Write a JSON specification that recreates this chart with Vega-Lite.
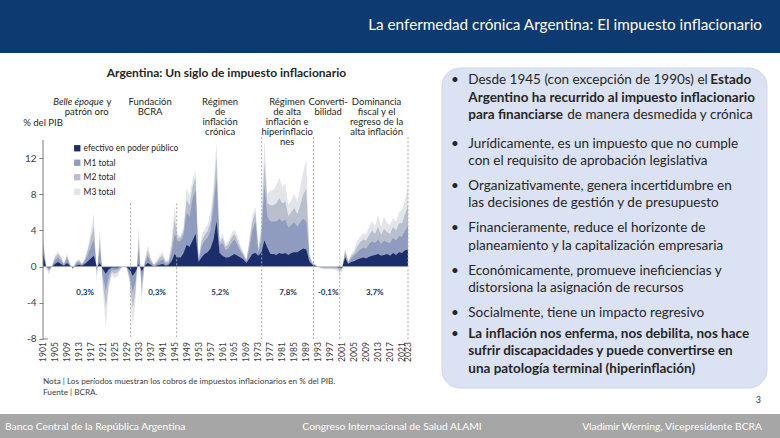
{
  "$schema": "https://vega.github.io/schema/vega-lite/v6.json",
  "width": 780,
  "height": 438,
  "padding": 0,
  "autosize": {"type": "none"},
  "background": "white",
  "config": {"view": {"stroke": null}, "font": "Lato"},
  "datasets": {
    "serie": [
      {"anio":1901,"e":1.4,"m1":2.4,"m2":3.0,"m3":3.6},
      {"anio":1902,"e":0.0,"m1":0.0,"m2":0.0,"m3":0.0},
      {"anio":1903,"e":-0.1,"m1":-0.3,"m2":-0.5,"m3":-0.9},
      {"anio":1904,"e":0.0,"m1":0.0,"m2":0.1,"m3":0.1},
      {"anio":1905,"e":0.3,"m1":0.7,"m2":1.0,"m3":1.2},
      {"anio":1906,"e":0.5,"m1":1.0,"m2":1.4,"m3":1.7},
      {"anio":1907,"e":0.3,"m1":0.7,"m2":1.0,"m3":1.2},
      {"anio":1908,"e":0.1,"m1":0.2,"m2":0.3,"m3":0.3},
      {"anio":1909,"e":0.4,"m1":0.9,"m2":1.2,"m3":1.5},
      {"anio":1910,"e":0.1,"m1":0.2,"m2":0.3,"m3":0.3},
      {"anio":1911,"e":-0.1,"m1":-0.2,"m2":-0.3,"m3":-0.3},
      {"anio":1912,"e":0.1,"m1":0.3,"m2":0.5,"m3":0.6},
      {"anio":1913,"e":0.2,"m1":0.5,"m2":0.7,"m3":0.9},
      {"anio":1914,"e":0.1,"m1":0.2,"m2":0.3,"m3":0.3},
      {"anio":1915,"e":0.3,"m1":0.6,"m2":0.8,"m3":1.0},
      {"anio":1916,"e":0.6,"m1":1.3,"m2":1.8,"m3":2.2},
      {"anio":1917,"e":0.9,"m1":2.2,"m2":3.2,"m3":4.0},
      {"anio":1918,"e":1.2,"m1":3.0,"m2":4.5,"m3":5.9},
      {"anio":1919,"e":-0.1,"m1":-0.5,"m2":-1.0,"m3":-2.0},
      {"anio":1920,"e":0.4,"m1":2.0,"m2":3.2,"m3":4.2},
      {"anio":1921,"e":-0.3,"m1":-1.0,"m2":-1.8,"m3":-2.6},
      {"anio":1922,"e":-0.8,"m1":-2.6,"m2":-4.5,"m3":-6.7},
      {"anio":1923,"e":-0.3,"m1":-1.0,"m2":-1.8,"m3":-2.5},
      {"anio":1924,"e":-0.1,"m1":-0.3,"m2":-0.6,"m3":-1.0},
      {"anio":1925,"e":-0.1,"m1":-0.4,"m2":-0.8,"m3":-1.3},
      {"anio":1926,"e":-0.1,"m1":-0.3,"m2":-0.6,"m3":-1.0},
      {"anio":1927,"e":0.0,"m1":-0.1,"m2":-0.2,"m3":-0.3},
      {"anio":1928,"e":0.0,"m1":0.0,"m2":0.1,"m3":0.1},
      {"anio":1929,"e":0.0,"m1":-0.1,"m2":-0.1,"m3":-0.2},
      {"anio":1930,"e":-0.4,"m1":-1.0,"m2":-1.5,"m3":-2.0},
      {"anio":1931,"e":-1.0,"m1":-2.8,"m2":-4.6,"m3":-6.6},
      {"anio":1932,"e":-0.5,"m1":-1.5,"m2":-2.5,"m3":-3.5},
      {"anio":1933,"e":0.3,"m1":2.0,"m2":3.3,"m3":4.5},
      {"anio":1934,"e":-0.5,"m1":-1.8,"m2":-3.0,"m3":-4.1},
      {"anio":1935,"e":0.1,"m1":0.3,"m2":0.5,"m3":0.7},
      {"anio":1936,"e":0.4,"m1":1.2,"m2":1.8,"m3":2.4},
      {"anio":1937,"e":0.2,"m1":0.5,"m2":0.8,"m3":1.0},
      {"anio":1938,"e":0.0,"m1":0.1,"m2":0.2,"m3":0.2},
      {"anio":1939,"e":0.1,"m1":0.3,"m2":0.5,"m3":0.7},
      {"anio":1940,"e":0.2,"m1":0.6,"m2":1.0,"m3":1.3},
      {"anio":1941,"e":0.3,"m1":0.8,"m2":1.2,"m3":1.6},
      {"anio":1942,"e":0.1,"m1":0.3,"m2":0.5,"m3":0.7},
      {"anio":1943,"e":0.2,"m1":0.4,"m2":0.6,"m3":0.8},
      {"anio":1944,"e":0.6,"m1":1.5,"m2":2.2,"m3":3.0},
      {"anio":1945,"e":1.4,"m1":3.6,"m2":5.2,"m3":6.8},
      {"anio":1946,"e":1.0,"m1":2.8,"m2":3.2,"m3":3.5},
      {"anio":1947,"e":1.0,"m1":2.8,"m2":3.2,"m3":3.4},
      {"anio":1948,"e":1.5,"m1":3.5,"m2":4.0,"m3":4.5},
      {"anio":1949,"e":2.4,"m1":6.0,"m2":7.4,"m3":8.7},
      {"anio":1950,"e":2.2,"m1":5.5,"m2":6.8,"m3":7.8},
      {"anio":1951,"e":2.9,"m1":7.5,"m2":8.8,"m3":9.7},
      {"anio":1952,"e":3.6,"m1":8.5,"m2":9.8,"m3":10.6},
      {"anio":1953,"e":0.5,"m1":0.6,"m2":0.7,"m3":0.8},
      {"anio":1954,"e":1.0,"m1":2.2,"m2":2.8,"m3":3.3},
      {"anio":1955,"e":1.4,"m1":2.9,"m2":3.5,"m3":4.2},
      {"anio":1956,"e":1.6,"m1":3.2,"m2":3.9,"m3":4.6},
      {"anio":1957,"e":2.0,"m1":4.0,"m2":5.0,"m3":6.0},
      {"anio":1958,"e":3.0,"m1":6.5,"m2":7.8,"m3":8.8},
      {"anio":1959,"e":5.0,"m1":9.8,"m2":12.2,"m3":13.9},
      {"anio":1960,"e":1.5,"m1":2.3,"m2":2.6,"m3":2.9},
      {"anio":1961,"e":1.2,"m1":2.6,"m2":3.2,"m3":3.7},
      {"anio":1962,"e":1.0,"m1":1.8,"m2":2.2,"m3":2.5},
      {"anio":1963,"e":1.0,"m1":2.0,"m2":2.5,"m3":2.9},
      {"anio":1964,"e":1.2,"m1":2.6,"m2":3.2,"m3":3.7},
      {"anio":1965,"e":1.4,"m1":3.0,"m2":3.6,"m3":4.1},
      {"anio":1966,"e":1.2,"m1":2.4,"m2":2.9,"m3":3.4},
      {"anio":1967,"e":1.0,"m1":1.7,"m2":2.0,"m3":2.3},
      {"anio":1968,"e":0.8,"m1":1.2,"m2":1.4,"m3":1.6},
      {"anio":1969,"e":0.4,"m1":0.6,"m2":0.7,"m3":0.8},
      {"anio":1970,"e":0.9,"m1":2.0,"m2":2.7,"m3":3.3},
      {"anio":1971,"e":1.4,"m1":4.0,"m2":5.0,"m3":5.8},
      {"anio":1972,"e":1.5,"m1":5.0,"m2":6.0,"m3":6.6},
      {"anio":1973,"e":1.2,"m1":1.6,"m2":1.8,"m3":2.0},
      {"anio":1974,"e":1.6,"m1":3.0,"m2":4.0,"m3":5.0},
      {"anio":1975,"e":2.9,"m1":9.0,"m2":11.5,"m3":14.1},
      {"anio":1976,"e":2.1,"m1":5.5,"m2":7.0,"m3":8.0},
      {"anio":1977,"e":1.4,"m1":5.0,"m2":6.8,"m3":8.4},
      {"anio":1978,"e":1.4,"m1":5.0,"m2":6.8,"m3":8.5},
      {"anio":1979,"e":1.3,"m1":5.0,"m2":7.0,"m3":9.0},
      {"anio":1980,"e":1.5,"m1":5.3,"m2":7.6,"m3":9.8},
      {"anio":1981,"e":1.4,"m1":5.0,"m2":7.0,"m3":8.8},
      {"anio":1982,"e":1.5,"m1":5.2,"m2":7.2,"m3":9.2},
      {"anio":1983,"e":1.3,"m1":4.3,"m2":5.6,"m3":6.8},
      {"anio":1984,"e":1.5,"m1":4.6,"m2":6.0,"m3":7.4},
      {"anio":1985,"e":1.6,"m1":4.9,"m2":6.5,"m3":8.0},
      {"anio":1986,"e":1.6,"m1":4.4,"m2":5.8,"m3":7.2},
      {"anio":1987,"e":1.8,"m1":4.9,"m2":6.8,"m3":8.8},
      {"anio":1988,"e":2.0,"m1":5.3,"m2":8.0,"m3":10.5},
      {"anio":1989,"e":1.9,"m1":5.0,"m2":8.6,"m3":11.9},
      {"anio":1990,"e":0.6,"m1":1.0,"m2":1.3,"m3":1.6},
      {"anio":1991,"e":0.2,"m1":0.3,"m2":0.4,"m3":0.5},
      {"anio":1992,"e":0.1,"m1":0.1,"m2":0.2,"m3":0.2},
      {"anio":1993,"e":0.0,"m1":0.0,"m2":0.0,"m3":-0.1},
      {"anio":1994,"e":0.0,"m1":-0.1,"m2":-0.1,"m3":-0.2},
      {"anio":1995,"e":0.0,"m1":-0.1,"m2":-0.2,"m3":-0.3},
      {"anio":1996,"e":0.0,"m1":-0.1,"m2":-0.2,"m3":-0.3},
      {"anio":1997,"e":0.0,"m1":-0.1,"m2":-0.2,"m3":-0.3},
      {"anio":1998,"e":0.0,"m1":-0.1,"m2":-0.2,"m3":-0.3},
      {"anio":1999,"e":0.0,"m1":-0.1,"m2":-0.2,"m3":-0.4},
      {"anio":2000,"e":-0.1,"m1":-0.2,"m2":-0.4,"m3":-0.8},
      {"anio":2001,"e":-0.1,"m1":-0.2,"m2":-0.3,"m3":-0.5},
      {"anio":2002,"e":1.0,"m1":1.5,"m2":1.8,"m3":2.0},
      {"anio":2003,"e":0.3,"m1":0.4,"m2":0.5,"m3":0.6},
      {"anio":2004,"e":0.5,"m1":0.9,"m2":1.2,"m3":1.4},
      {"anio":2005,"e":0.6,"m1":1.2,"m2":1.5,"m3":1.9},
      {"anio":2006,"e":0.8,"m1":1.6,"m2":2.2,"m3":2.8},
      {"anio":2007,"e":0.9,"m1":1.9,"m2":2.7,"m3":3.3},
      {"anio":2008,"e":1.0,"m1":2.1,"m2":3.0,"m3":3.7},
      {"anio":2009,"e":0.9,"m1":2.0,"m2":2.9,"m3":3.6},
      {"anio":2010,"e":1.1,"m1":2.5,"m2":3.5,"m3":4.4},
      {"anio":2011,"e":1.2,"m1":2.8,"m2":4.0,"m3":5.0},
      {"anio":2012,"e":1.3,"m1":2.6,"m2":3.6,"m3":4.4},
      {"anio":2013,"e":1.4,"m1":3.0,"m2":4.4,"m3":5.7},
      {"anio":2014,"e":1.2,"m1":2.5,"m2":3.5,"m3":4.4},
      {"anio":2015,"e":1.3,"m1":2.9,"m2":4.2,"m3":5.5},
      {"anio":2016,"e":1.4,"m1":2.7,"m2":3.8,"m3":4.8},
      {"anio":2017,"e":1.2,"m1":2.6,"m2":3.6,"m3":4.6},
      {"anio":2018,"e":1.5,"m1":3.2,"m2":4.4,"m3":5.4},
      {"anio":2019,"e":1.3,"m1":2.9,"m2":4.0,"m3":5.0},
      {"anio":2020,"e":1.6,"m1":3.4,"m2":4.8,"m3":6.0},
      {"anio":2021,"e":1.5,"m1":3.3,"m2":4.8,"m3":6.3},
      {"anio":2022,"e":1.8,"m1":4.0,"m2":5.8,"m3":7.4},
      {"anio":2023,"e":1.9,"m1":4.5,"m2":6.8,"m3":8.7}
    ],
    "etiquetas": [
      {"anio":1901},{"anio":1905},{"anio":1909},{"anio":1913},{"anio":1917},{"anio":1921},{"anio":1925},{"anio":1929},
      {"anio":1933},{"anio":1937},{"anio":1941},{"anio":1945},{"anio":1949},{"anio":1953},{"anio":1957},{"anio":1961},
      {"anio":1965},{"anio":1969},{"anio":1973},{"anio":1977},{"anio":1981},{"anio":1985},{"anio":1989},{"anio":1993},
      {"anio":1997},{"anio":2001},{"anio":2005},{"anio":2009},{"anio":2013},{"anio":2017},{"anio":2021},{"anio":2023}
    ],
    "periodos": [
      {"c": 1915.6, "cp": 1915.1, "t": ["", "patrón oro"], "p": "0,3%"},
      {"c": 1936.8, "cp": 1939.1, "t": ["Fundación", "BCRA"], "p": "0,3%"},
      {"c": 1960.2, "cp": 1960.2, "t": ["Régimen", "de", "inflación", "crónica"], "p": "5,2%"},
      {"c": 1982.6, "cp": 1982.9, "t": ["Régimen", "de alta", "inflación e", "hiperinflacio", "nes"], "p": "7,8%"},
      {"c": 1996.3, "cp": 1996.3, "t": ["Converti-", "bilidad"], "p": "-0,1%"},
      {"c": 2012.5, "cp": 2011.9, "t": ["Dominancia", "fiscal y el", "regreso de la", "alta inflación"], "p": "3,7%"}
    ],
    "texto": [
      {"l": 1, "w": "n", "t": ["Desde 1945 (con excepción de 1990s) el"]},
      {"l": 1, "w": "b", "t": ["", "Argentino ha recurrido al impuesto inflacionario", "para financiarse"]},
      {"l": 4, "w": "n", "t": ["Jurídicamente, es un impuesto que no cumple", "con el requisito de aprobación legislativa"]},
      {"l": 6, "w": "n", "t": ["Organizativamente, genera incertidumbre en", "las decisiones de gestión y de presupuesto"]},
      {"l": 8, "w": "n", "t": ["Financieramente, reduce el horizonte de", "planeamiento y la capitalización empresaria"]},
      {"l": 10, "w": "n", "t": ["Económicamente, promueve ineficiencias y", "distorsiona la asignación de recursos"]},
      {"l": 12, "w": "n", "t": ["Socialmente, tiene un impacto regresivo"]},
      {"l": 13, "w": "b", "t": ["La inflación nos enferma, nos debilita, nos hace", "sufrir discapacidades y puede convertirse en", "una patología terminal (hiperinflación)"]}
    ]
  },
  "resolve": {"scale": {"x": "independent", "y": "independent", "color": "independent"}},
  "layer": [
    {
      "layer": [
        {
          "data": {"name": "serie"},
          "mark": {"type": "area"},
          "encoding": {
            "x": {"field": "anio", "type": "quantitative", "title": null,
              "scale": {"domain": [1886.627, 2147.34], "nice": false, "zero": false},
              "axis": {"labels": false, "ticks": false, "domain": false, "grid": false, "title": null}},
            "y": {"field": "m3", "type": "quantitative", "title": null,
              "scale": {"domain": [-18.945, 29.478], "nice": false, "zero": false},
              "axis": {"values": [-8, -4, 0, 4, 8, 12], "labelExpr": "'' + datum.value", "domain": false, "grid": false, "ticks": true, "tickSize": 4, "tickColor": "#7f7f7f", "offset": -43,
                "labelFontSize": 10, "labelColor": "#404040", "labelPadding": 3, "labelFont": "Lato", "title": null}},
            "y2": {"datum": 0},
            "color": {"datum": "M3 total", "type": "nominal",
              "scale": {"domain": ["efectivo en poder público", "M1 total", "M2 total", "M3 total"], "range": ["#1c2d6b", "#8f9cbf", "#b9bfcd", "#e3e5eb"]},
              "legend": {"title": null, "orient": "none", "legendX": 73, "legendY": 144, "symbolType": "square", "symbolSize": 40,
                "symbolStrokeWidth": 0, "symbolOpacity": 1, "labelFontSize": 8.5, "labelColor": "#262626", "rowPadding": 5.5, "padding": 0, "labelOffset": 2, "labelFont": "Lato"}}
          }
        },
        {
          "data": {"name": "serie"},
          "mark": {"type": "area"},
          "encoding": {
            "x": {"field": "anio", "type": "quantitative", "title": null},
            "y": {"field": "m2", "type": "quantitative", "title": null},
            "y2": {"datum": 0},
            "color": {"datum": "M2 total", "type": "nominal"}
          }
        },
        {
          "data": {"name": "serie"},
          "mark": {"type": "area"},
          "encoding": {
            "x": {"field": "anio", "type": "quantitative", "title": null},
            "y": {"field": "m1", "type": "quantitative", "title": null},
            "y2": {"datum": 0},
            "color": {"datum": "M1 total", "type": "nominal"}
          }
        },
        {
          "data": {"name": "serie"},
          "mark": {"type": "area"},
          "encoding": {
            "x": {"field": "anio", "type": "quantitative", "title": null},
            "y": {"field": "e", "type": "quantitative", "title": null},
            "y2": {"datum": 0},
            "color": {"datum": "efectivo en poder público", "type": "nominal"}
          }
        },
        {
          "data": {"values": [{"a": 1901, "b": 2023}]},
          "mark": {"type": "rule", "color": "#c8c8c8", "strokeWidth": 0.8},
          "encoding": {
            "x": {"field": "a", "type": "quantitative", "title": null},
            "x2": {"field": "b"},
            "y": {"datum": 0, "type": "quantitative"}
          }
        },
        {
          "data": {"values": [{"anio": 1930.3}, {"anio": 1945.7}]},
          "mark": {"type": "rule", "strokeDash": [2, 2], "color": "#a6a6a6", "strokeWidth": 1},
          "encoding": {
            "x": {"field": "anio", "type": "quantitative", "title": null},
            "y": {"datum": 7, "type": "quantitative"},
            "y2": {"datum": -8}
          }
        },
        {
          "data": {"values": [{"anio": 1974.1}, {"anio": 1991.4}, {"anio": 2000.2}, {"anio": 2023}]},
          "mark": {"type": "rule", "strokeDash": [2, 2], "color": "#a6a6a6", "strokeWidth": 1},
          "encoding": {
            "x": {"field": "anio", "type": "quantitative", "title": null},
            "y": {"datum": 14.3, "type": "quantitative"},
            "y2": {"datum": -8}
          }
        },
        {
          "data": {"values": [{"a": 1901}]},
          "mark": {"type": "rule", "color": "#7f7f7f", "strokeWidth": 1},
          "encoding": {
            "x": {"field": "a", "type": "quantitative", "title": null},
            "y": {"datum": 14, "type": "quantitative"},
            "y2": {"datum": -8}
          }
        },
        {
          "data": {"values": [{"a": 1901, "b": 1902.6}]},
          "mark": {"type": "rule", "color": "#7f7f7f", "strokeWidth": 1},
          "encoding": {
            "x": {"field": "a", "type": "quantitative", "title": null},
            "x2": {"field": "b"},
            "y": {"datum": -8, "type": "quantitative"}
          }
        },
        {
          "data": {"name": "etiquetas"},
          "mark": {"type": "text", "angle": 270, "align": "right", "baseline": "middle", "fontSize": 8.5, "color": "#404040", "font": "Lato"},
          "encoding": {
            "x": {"field": "anio", "type": "quantitative", "title": null},
            "y": {"datum": -8.35, "type": "quantitative"},
            "text": {"field": "anio", "type": "nominal"}
          }
        },
        {
          "data": {"name": "periodos"},
          "mark": {"type": "text", "align": "center", "baseline": "top", "fontSize": 9.5, "lineHeight": 10.2, "color": "#262626", "font": "Lato"},
          "encoding": {
            "x": {"field": "c", "type": "quantitative", "title": null},
            "y": {"datum": 18.8, "type": "quantitative"},
            "text": {"field": "t"}
          }
        },
        {
          "data": {"values": [{"t": "Belle époque", "a": 1921.2}]},
          "mark": {"type": "text", "align": "right", "baseline": "top", "fontSize": 9.5, "fontStyle": "italic", "color": "#262626", "font": "Lato"},
          "encoding": {
            "x": {"field": "a", "type": "quantitative", "title": null},
            "y": {"datum": 18.8, "type": "quantitative"},
            "text": {"field": "t"}
          }
        },
        {
          "data": {"values": [{"t": "y", "a": 1921.2}]},
          "mark": {"type": "text", "align": "left", "baseline": "top", "fontSize": 9.5, "dx": 3, "color": "#262626", "font": "Lato"},
          "encoding": {
            "x": {"field": "a", "type": "quantitative", "title": null},
            "y": {"datum": 18.8, "type": "quantitative"},
            "text": {"field": "t"}
          }
        },
        {
          "data": {"name": "periodos"},
          "mark": {"type": "text", "align": "center", "baseline": "middle", "fontSize": 8, "fontWeight": "bold", "color": "#203864", "font": "Lato"},
          "encoding": {
            "x": {"field": "cp", "type": "quantitative", "title": null},
            "y": {"datum": -2.95, "type": "quantitative"},
            "text": {"field": "p"}
          }
        },
        {
          "data": {"values": [{"t": "Argentina: Un siglo de impuesto inflacionario", "a": 1962.3}]},
          "mark": {"type": "text", "align": "center", "baseline": "middle", "fontSize": 12, "fontWeight": "bold", "color": "#262626", "font": "Lato"},
          "encoding": {
            "x": {"field": "a", "type": "quantitative", "title": null},
            "y": {"datum": 21.4, "type": "quantitative"},
            "text": {"field": "t"}
          }
        },
        {
          "data": {"values": [{"t": "% del PIB", "a": 1894.4}]},
          "mark": {"type": "text", "align": "left", "baseline": "middle", "fontSize": 9.5, "color": "#262626", "font": "Lato"},
          "encoding": {
            "x": {"field": "a", "type": "quantitative", "title": null},
            "y": {"datum": 15.9, "type": "quantitative"},
            "text": {"field": "t"}
          }
        },
        {
          "data": {"values": [{"t": ["Nota | Los períodos muestran los cobros de impuestos inflacionarios en % del PIB.", "Fuente | BCRA."], "a": 1901}]},
          "mark": {"type": "text", "align": "left", "baseline": "top", "fontSize": 8.2, "lineHeight": 11, "color": "#404040", "font": "Lato"},
          "encoding": {
            "x": {"field": "a", "type": "quantitative", "title": null},
            "y": {"datum": -12.35, "type": "quantitative"},
            "text": {"field": "t"}
          }
        }
      ]
    },
    {
      "layer": [
        {
          "data": {"values": [{}]},
          "mark": {"type": "rect", "color": "#0d3a70"},
          "encoding": {
            "x": {"datum": 0, "type": "quantitative", "scale": {"domain": [0, 1], "nice": false, "zero": false}, "axis": null},
            "x2": {"datum": 1},
            "y": {"datum": 0, "type": "quantitative", "scale": {"domain": [0, 1], "reverse": true, "nice": false, "zero": false}, "axis": null},
            "y2": {"datum": 0.121}
          }
        },
        {
          "data": {"values": [{}]},
          "mark": {"type": "rect", "color": "#a6a6a6"},
          "encoding": {
            "x": {"datum": 0, "type": "quantitative", "axis": null},
            "x2": {"datum": 1},
            "y": {"datum": 0.9452, "type": "quantitative", "axis": null},
            "y2": {"datum": 1}
          }
        },
        {
          "data": {"values": [{"t": "La enfermedad crónica Argentina: El impuesto inflacionario"}]},
          "mark": {"type": "text", "align": "right", "baseline": "middle", "color": "white", "fontSize": 15.3, "font": "Lato"},
          "encoding": {
            "text": {"field": "t"},
            "x": {"datum": 0.9769, "type": "quantitative", "axis": null},
            "y": {"datum": 0.0571, "type": "quantitative", "axis": null}
          }
        },
        {
          "data": {"values": [{"t": "Banco Central de la República Argentina"}]},
          "mark": {"type": "text", "align": "left", "baseline": "middle", "color": "white", "fontSize": 10.3, "font": "Lato"},
          "encoding": {
            "text": {"field": "t"},
            "x": {"datum": 0.0064, "type": "quantitative", "axis": null},
            "y": {"datum": 0.9749, "type": "quantitative", "axis": null}
          }
        },
        {
          "data": {"values": [{"t": "Congreso Internacional de Salud ALAMI"}]},
          "mark": {"type": "text", "align": "center", "baseline": "middle", "color": "white", "fontSize": 10.3, "font": "Lato"},
          "encoding": {
            "text": {"field": "t"},
            "x": {"datum": 0.5026, "type": "quantitative", "axis": null},
            "y": {"datum": 0.9749, "type": "quantitative", "axis": null}
          }
        },
        {
          "data": {"values": [{"t": "Vladimir Werning, Vicepresidente BCRA"}]},
          "mark": {"type": "text", "align": "right", "baseline": "middle", "color": "white", "fontSize": 10.3, "font": "Lato"},
          "encoding": {
            "text": {"field": "t"},
            "x": {"datum": 0.9769, "type": "quantitative", "axis": null},
            "y": {"datum": 0.9749, "type": "quantitative", "axis": null}
          }
        }
      ]
    },
    {
      "layer": [
        {
          "data": {"values": [{}]},
          "mark": {"type": "rect", "cornerRadius": 18, "color": "#dbe2f4", "stroke": "#cfd7ec", "strokeWidth": 1},
          "encoding": {
            "x": {"datum": 0.5667, "type": "quantitative", "scale": {"domain": [0, 1], "nice": false, "zero": false}, "axis": null},
            "x2": {"datum": 0.9833},
            "y": {"datum": 0.7556, "type": "quantitative", "scale": {"domain": [-2.4596, 18.2496], "reverse": true, "nice": false, "zero": false}, "axis": null},
            "y2": {"datum": 15.886}
          }
        },
        {
          "data": {"values": [{"l": 1}, {"l": 4}, {"l": 6}, {"l": 8}, {"l": 10}, {"l": 12}, {"l": 13}]},
          "mark": {"type": "text", "text": "•", "align": "center", "baseline": "top", "fontSize": 13.5, "color": "#262626", "font": "Lato"},
          "encoding": {
            "x": {"datum": 0.5833, "type": "quantitative", "axis": null},
            "y": {"field": "l", "type": "quantitative", "axis": null, "title": null}
          }
        },
        {
          "data": {"name": "texto"},
          "transform": [{"filter": "datum.w == 'n'"}],
          "mark": {"type": "text", "align": "left", "baseline": "top", "fontSize": 13.5, "lineHeight": 17.5, "color": "#262626", "font": "Lato"},
          "encoding": {
            "x": {"datum": 0.6004, "type": "quantitative", "axis": null},
            "y": {"field": "l", "type": "quantitative", "axis": null, "title": null},
            "text": {"field": "t"}
          }
        },
        {
          "data": {"name": "texto"},
          "transform": [{"filter": "datum.w == 'b'"}],
          "mark": {"type": "text", "align": "left", "baseline": "top", "fontSize": 13.5, "fontWeight": "bold", "lineHeight": 17.5, "color": "#262626", "font": "Lato"},
          "encoding": {
            "x": {"datum": 0.6004, "type": "quantitative", "axis": null},
            "y": {"field": "l", "type": "quantitative", "axis": null, "title": null},
            "text": {"field": "t"}
          }
        },
        {
          "data": {"values": [{"l": 1, "t": "Estado"}]},
          "mark": {"type": "text", "align": "left", "baseline": "top", "fontSize": 13.5, "fontWeight": "bold", "dx": 242, "color": "#262626", "font": "Lato"},
          "encoding": {
            "x": {"datum": 0.6004, "type": "quantitative", "axis": null},
            "y": {"field": "l", "type": "quantitative", "axis": null, "title": null},
            "text": {"field": "t"}
          }
        },
        {
          "data": {"values": [{"l": 1, "t": "de manera desmedida y crónica"}]},
          "mark": {"type": "text", "align": "left", "baseline": "top", "fontSize": 13.5, "dx": 99, "dy": 35, "color": "#262626", "font": "Lato"},
          "encoding": {
            "x": {"datum": 0.6004, "type": "quantitative", "axis": null},
            "y": {"field": "l", "type": "quantitative", "axis": null, "title": null},
            "text": {"field": "t"}
          }
        },
        {
          "data": {"values": [{"t": "3"}]},
          "mark": {"type": "text", "align": "right", "baseline": "top", "fontSize": 9, "color": "#404040", "font": "Lato"},
          "encoding": {
            "x": {"datum": 0.9756, "type": "quantitative", "axis": null},
            "y": {"datum": 16.25, "type": "quantitative", "axis": null},
            "text": {"field": "t"}
          }
        }
      ]
    }
  ]
}
